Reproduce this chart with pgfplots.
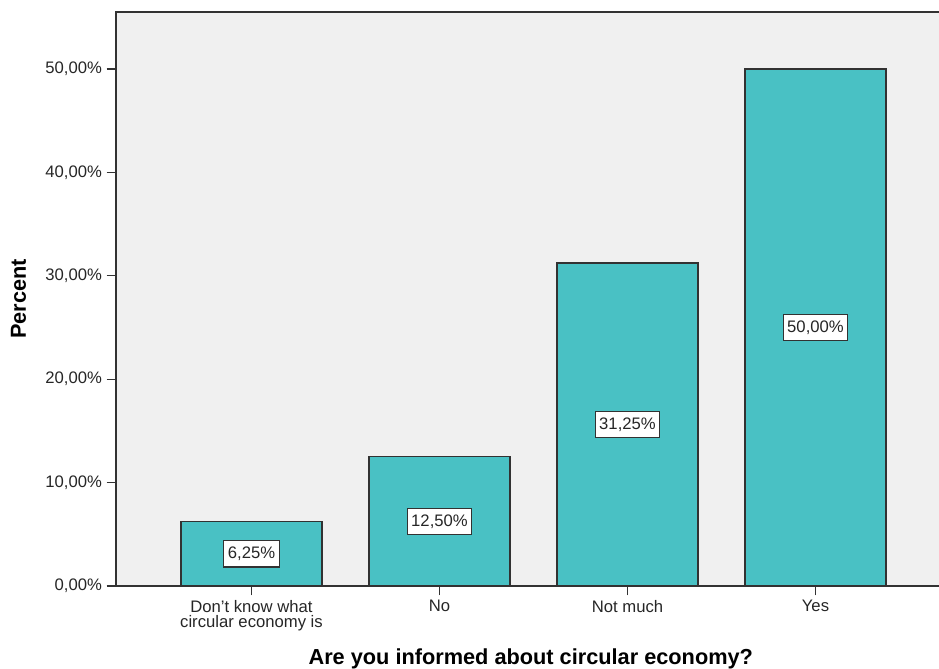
\documentclass[border=0pt]{standalone}
\usepackage{pgfplots}
\pgfplotsset{compat=1.18}
\usepackage{fontspec}
\setmainfont{Liberation Sans}
\definecolor{barfill}{RGB}{73,193,196}
\definecolor{bgfill}{RGB}{240,240,240}
\definecolor{framec}{RGB}{50,50,50}
\begin{document}
\begin{tikzpicture}[x=1pt,y=1pt]
\useasboundingbox (0,0) rectangle (704.25,501);
\begin{axis}[
  at={(87pt,61.5pt)}, anchor=south west,
  scale only axis, width=617.25pt, height=430.5pt,
  xmin=-0.7207, xmax=3.657, ymin=0, ymax=55.51,
  axis background/.style={fill=bgfill},
  axis line style={draw=none},
  xtick={0,1,2,3},
  xticklabels={{Don’t know what\\circular economy is},No,Not much,Yes},
  ytick={0,10,20,30,40,50},
  yticklabels={{0,00\%},{10,00\%},{20,00\%},{30,00\%},{40,00\%},{50,00\%}},
  tick align=outside, xtick pos=bottom, ytick pos=left,
  major tick length=7pt,
  tick style={framec, line width=0.8pt},
  ticklabel style={font=\fontsize{12.5}{11.6}\selectfont, text=black!85},
  xticklabel style={align=center},
  xlabel={Are you informed about circular economy?},
  ylabel={Percent},
  xlabel style={font=\bfseries\fontsize{16.3}{19}\selectfont, at={(axis description cs:0.504,-0.1359)}, anchor=base},
  ylabel style={font=\bfseries\fontsize{16.3}{19}\selectfont, at={(axis description cs:-0.1185,0.5)}, anchor=center},
  clip=false,
]
\addplot[ybar, bar width=0.75, fill=barfill, draw=framec, line width=1.1pt]
  coordinates {(0,6.25) (1,12.5) (2,31.25) (3,50)};
\addplot[draw=none, nodes near coords, point meta=explicit symbolic,
  every node near coord/.style={anchor=center, fill=white, draw=framec, line width=0.8pt,
    font=\fontsize{12.5}{14}\selectfont, text=black!85, inner xsep=3pt, inner ysep=4.5pt,
    text height=9pt, text depth=2pt}]
  coordinates {(0,3.125) [6,25\%] (1,6.25) [12,50\%] (2,15.625) [31,25\%] (3,25) [50,00\%]};
\draw[framec, line width=1pt] (rel axis cs:1,1) -- (rel axis cs:0,1) -- (rel axis cs:0,0) -- (rel axis cs:1,0);
\end{axis}
\end{tikzpicture}
\end{document}
